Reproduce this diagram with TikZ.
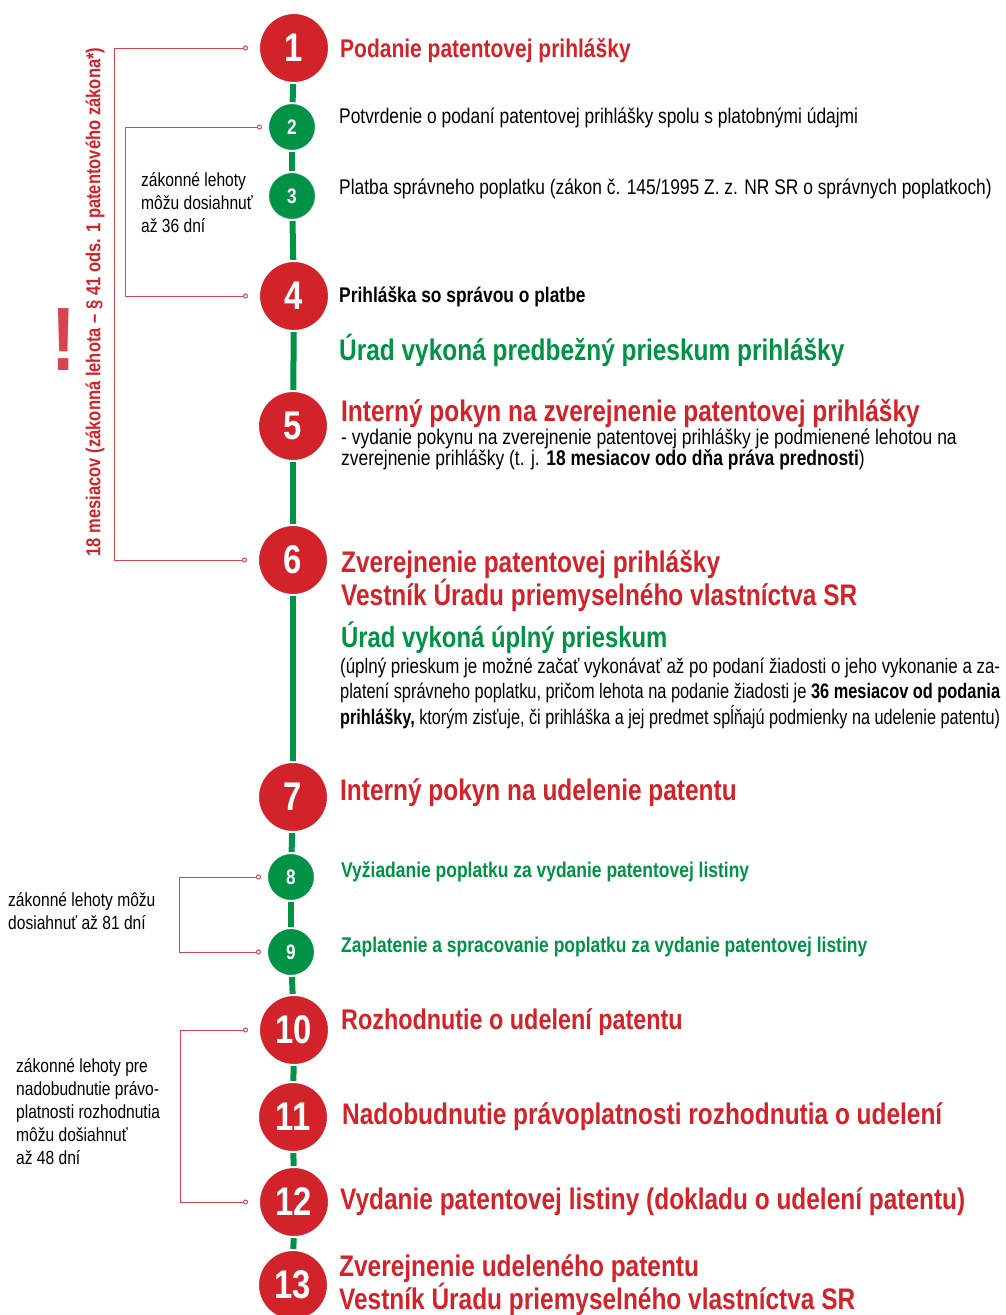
\documentclass[tikz,border=0pt]{standalone}
\usepackage{fontspec}
\usepackage{graphicx}
\setmainfont{Liberation Sans}[FakeStretch=0.82]
\usetikzlibrary{arrows.meta,backgrounds}

\definecolor{stepred}{HTML}{D2232A}
\definecolor{stepgreen}{HTML}{009245}
\definecolor{bracketred}{HTML}{D9434F}

\newcommand{\fs}[1]{\fontsize{#1}{#1}\selectfont}
\newcommand{\fitline}[1]{\resizebox{660pt}{\height}{#1}}

\tikzset{
  bigstep/.style={circle, fill=stepred, draw=white, line width=2pt, minimum size=70pt,
    inner sep=0pt, text=white, font=\bfseries\fs{40}},
  smallstep/.style={circle, fill=stepgreen, draw=white, line width=2pt, minimum size=48pt,
    inner sep=0pt, text=white, font=\bfseries\fs{21}},
  spine/.style={stepgreen, line width=6pt},
  bracket/.style={bracketred, line width=1pt,
    {Circle[fill=white,length=5pt]}-{Circle[fill=white,length=5pt]}},
  redhead/.style={anchor=west, inner sep=0pt, text=stepred, font=\bfseries\fs{29.8}},
  greenhead/.style={anchor=west, inner sep=0pt, text=stepgreen, font=\bfseries\fs{29.8}},
  greensub/.style={anchor=west, inner sep=0pt, text=stepgreen, font=\bfseries\fs{21.3}},
  plain/.style={anchor=west, inner sep=0pt, font=\fs{21.2}},
  note/.style={anchor=west, inner sep=0pt, align=left, font=\fontsize{19}{23}\selectfont},
}

\begin{document}
\begin{tikzpicture}[x=1pt,y=-1pt]
  \useasboundingbox (0,0) rectangle (1005,1315);

  % steps on the time line
  \node[bigstep]   (c1)  at (294,48)   {1};
  \node[smallstep] (c2)  at (292,127)  {2};
  \node[smallstep] (c3)  at (292,196)  {3};
  \node[bigstep]   (c4)  at (294,296)  {4};
  \node[bigstep]   (c5)  at (293,426)  {5};
  \node[bigstep]   (c6)  at (293,560)  {6};
  \node[bigstep]   (c7)  at (293,797)  {7};
  \node[smallstep] (c8)  at (291,877)  {8};
  \node[smallstep] (c9)  at (291,952)  {9};
  \node[bigstep]   (c10) at (294,1030) {10};
  \node[bigstep]   (c11) at (293,1117) {11};
  \node[bigstep]   (c12) at (294,1202) {12};
  \node[bigstep]   (c13) at (293,1285) {13};

  % green line behind the steps
  \begin{scope}[on background layer]
    \foreach \i [evaluate=\i as \j using int(\i+1)] in {1,...,12}
      \draw[spine] (c\i.center) -- (c\j.center);
  \end{scope}

  % texts right of the line
  \node[redhead, font=\bfseries\fs{25.6}] (t1) at (340,51) {Podanie patentovej prihlášky};
  \node[plain] (t2) at (339,118) {Potvrdenie o podaní patentovej prihlášky spolu s platobnými údajmi};
  \node[plain] (t3) at (339,189) {Platba správneho poplatku (zákon č. 145/1995 Z. z. NR SR o správnych poplatkoch)};
  \node[plain, font=\bfseries\fs{21.2}] (t4) at (339,297) {Prihláška so správou o platbe};
  \node[greenhead] (pre) at (339,350) {Úrad vykoná predbežný prieskum prihlášky};
  \node[redhead] (t5) at (341,413) {Interný pokyn na zverejnenie patentovej prihlášky};
  \node[plain, align=left, font=\fontsize{21.3}{21}\selectfont] (p5) at (341,449)
    {- vydanie pokynu na zverejnenie patentovej prihlášky je podmienené lehotou na\\
     zverejnenie prihlášky (t. j. \textbf{18 mesiacov odo dňa práva prednosti})};
  \node[redhead, align=left, font=\bfseries\fontsize{29.8}{32}\selectfont] (t6) at (341,581)
    {Zverejnenie patentovej prihlášky\\Vestník Úradu priemyselného vlastníctva SR};
  \node[greenhead, font=\bfseries\fs{29.1}] (full) at (341,638) {Úrad vykoná úplný prieskum};
  \node[plain, align=left, font=\fontsize{21}{25.5}\selectfont] (p6) at (340,693)
    {\fitline{(úplný prieskum je možné začať vykonávať až po podaní žiadosti o jeho vykonanie a za-}\\
     \fitline{platení správneho poplatku, pričom lehota na podanie žiadosti je \textbf{36 mesiacov od podania}}\\
     \fitline{\textbf{prihlášky,} ktorým zisťuje, či prihláška a jej predmet spĺňajú podmienky na udelenie patentu)}};
  \node[redhead] (t7) at (340,793) {Interný pokyn na udelenie patentu};
  \node[greensub] (t8) at (341,872) {Vyžiadanie poplatku za vydanie patentovej listiny};
  \node[greensub] (t9) at (341,947) {Zaplatenie a spracovanie poplatku za vydanie patentovej listiny};
  \node[redhead, font=\bfseries\fs{28.5}] (t10) at (341,1022) {Rozhodnutie o udelení patentu};
  \node[redhead] (t11) at (342,1117) {Nadobudnutie právoplatnosti rozhodnutia o udelení};
  \node[redhead] (t12) at (340,1202) {Vydanie patentovej listiny (dokladu o udelení patentu)};
  \node[redhead, align=left, font=\bfseries\fontsize{29.8}{33}\selectfont] (t13) at (339,1285)
    {Zverejnenie udeleného patentu\\Vestník Úradu priemyselného vlastníctva SR};

  % deadlines on the left
  \node[note] (n1) at (141,203) {zákonné lehoty\\môžu dosiahnuť\\až 36 dní};
  \node[note] (n2) at (8,911.5) {zákonné lehoty môžu\\dosiahnuť až 81 dní};
  \node[note] (n3) at (16,1112) {zákonné lehoty pre\\nadobudnutie právo-\\platnosti rozhodnutia\\môžu došiahnuť\\až 48 dní};
  \node[rotate=90, inner sep=0pt, text=stepred, font=\bfseries\fs{20.2}] (law) at (95,302)
    {18 mesiacov (zákonná lehota – § 41 ods. 1 patentového zákona*)};
  \node[inner sep=0pt, text=bracketred, font=\bfseries\fs{90}] (excl) at (64,340) {!};

  % brackets
  \coordinate (b1) at ([xshift=-10pt]c1.west);
  \coordinate (b6) at ([xshift=-10pt]c6.west);
  \coordinate (b2) at ([xshift=-5pt]c2.west);
  \coordinate (b4) at ([xshift=-10pt]c4.west);
  \coordinate (b8) at ([xshift=-5pt]c8.west);
  \coordinate (b9) at ([xshift=-5pt]c9.west);
  \coordinate (b10) at ([xshift=-10pt]c10.west);
  \coordinate (b12) at ([xshift=-10pt]c12.west);
  \draw[bracket] (b1) -- ++(-134,0) |- (b6);
  \draw[bracket] (b2) -- ++(-137,0) |- (b4);
  \draw[bracket] (b8) -- ++(-82,0) |- (b9);
  \draw[bracket] (b10) -- ++(-68,0) |- (b12);
\end{tikzpicture}
\end{document}
